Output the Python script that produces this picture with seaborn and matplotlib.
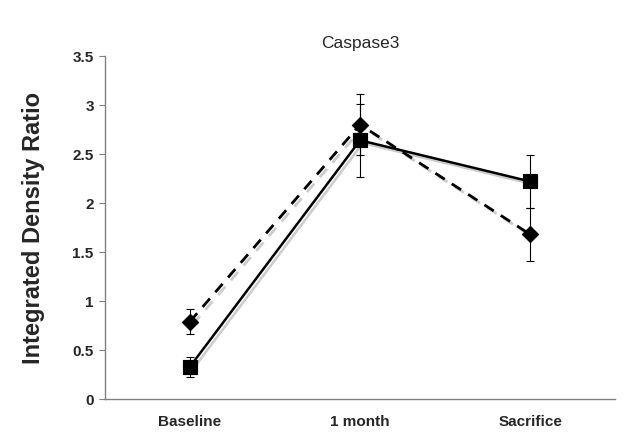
import pandas as pd
import matplotlib.pyplot as plt
import matplotlib.patheffects as pe
import seaborn as sns

# dados
grupos = ['Baseline', '1 month', 'Sacrifice']
serie_a = [0.79, 2.80, 1.68]   # tracejada, losango
erro_a = [0.13, 0.31, 0.27]
serie_b = [0.33, 2.64, 2.22]   # contínua, quadrado
erro_b = [0.10, 0.37, 0.27]

sns.set_style('white')
plt.rcParams['font.family'] = ['Liberation Sans', 'DejaVu Sans']

fig = plt.figure(figsize=(6.24, 4.41), dpi=100)
ax = fig.add_axes([0.168, 0.095, 0.818, 0.778])

pos = [0.5, 1.5, 2.5]
sombra = [pe.SimpleLineShadow(offset=(2, -2), alpha=0.2), pe.Normal()]

df_a = pd.DataFrame({'x': pos, 'y': serie_a})
df_b = pd.DataFrame({'x': pos, 'y': serie_b})

ax.errorbar(pos, serie_a, yerr=erro_a, fmt='none', ecolor='black', elinewidth=0.8, capsize=3, capthick=0.8)
ax.errorbar(pos, serie_b, yerr=erro_b, fmt='none', ecolor='black', elinewidth=0.8, capsize=3, capthick=0.8)

# linhas com sombra leve
sns.lineplot(data=df_a, x='x', y='y', ax=ax, color='black', linestyle=(0, (4, 3)), linewidth=2,
             path_effects=sombra)
sns.lineplot(data=df_b, x='x', y='y', ax=ax, color='black', linewidth=1.8, path_effects=sombra)

# marcadores
sns.scatterplot(data=df_a, x='x', y='y', ax=ax, color='black', marker='D', s=70, edgecolor='black', zorder=5)
sns.scatterplot(data=df_b, x='x', y='y', ax=ax, color='black', marker='s', s=110, edgecolor='black', zorder=5)

ax.set_xlim(0, 3)
ax.set_ylim(0, 3.5)
ax.set_xticks(pos)
ax.set_xticklabels(grupos, fontsize=11, fontweight='bold')
ax.set_yticks([0, 0.5, 1, 1.5, 2, 2.5, 3, 3.5])
ax.set_yticklabels(['0', '0.5', '1', '1.5', '2', '2.5', '3', '3.5'], fontsize=11, fontweight='bold')
ax.tick_params(axis='y', left=True, length=4, width=0.8, color='#808080', pad=4)
ax.tick_params(axis='x', bottom=False, pad=8)
ax.set_xlabel('')
ax.set_ylabel('Integrated Density Ratio', fontsize=17, fontweight='bold', labelpad=20)
ax.set_title('Caspase3', fontsize=12.5, pad=6)

for lado in ['top', 'right']:
    ax.spines[lado].set_visible(False)
for lado in ['left', 'bottom']:
    ax.spines[lado].set_color('#808080')
    ax.spines[lado].set_linewidth(1)

fig.savefig('out.png', dpi=100)
